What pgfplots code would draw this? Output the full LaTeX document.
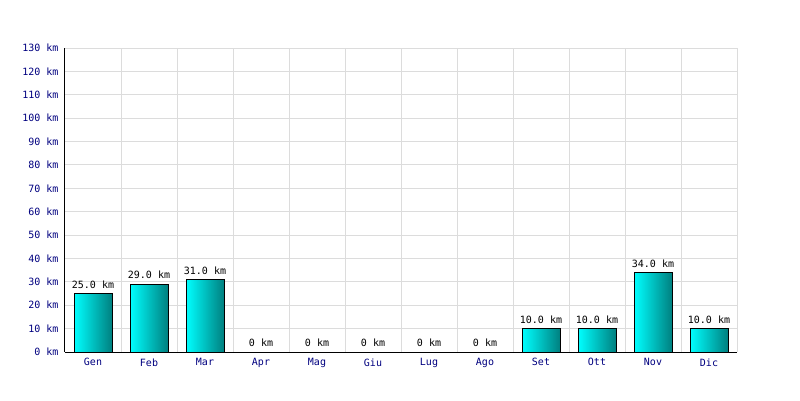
\documentclass[border=0pt]{standalone}
\usepackage{fontspec}
\setmonofont{DejaVu Sans Mono}
\usepackage{pgfplots}
\pgfplotsset{compat=1.18}
\definecolor{navylab}{RGB}{0,0,128}
\definecolor{gridc}{RGB}{220,220,220}
\definecolor{barL}{RGB}{0,255,255}
\definecolor{barR}{RGB}{0,128,128}
\pgfplotsset{mybar/.style={ybar, bar width=38pt, bar shift=0pt, draw=black, line width=1pt,
  left color=barL, right color=barR,
  point meta=explicit symbolic,
  nodes near coords,
  nodes near coords style={font=\ttfamily\fontsize{10}{12}\selectfont, text=black, anchor=south, yshift=1.5pt}}}
\begin{document}
\begin{tikzpicture}[x=1pt,y=1pt]
\fill[white] (0,0) rectangle (800,400);
\useasboundingbox (0,0) rectangle (800,400);
\begin{axis}[
  at={(65pt,48pt)}, anchor=south west,
  scale only axis, width=672pt, height=304pt,
  xmin=-0.5, xmax=11.5, ymin=0, ymax=130,
  axis x line*=bottom, axis y line*=left,
  axis line style={black, line width=1pt, -},
  xtick={0,...,11},
  xticklabels={Gen,Feb,Mar,Apr,Mag,Giu,Lug,Ago,Set,Ott,Nov,Dic},
  minor xtick={0.5,1.5,...,11.5},
  xminorgrids, ymajorgrids,
  grid style={gridc, line width=1pt},
  minor grid style={gridc, line width=1pt},
  ytick={0,10,...,130},
  yticklabels={0 km,10 km,20 km,30 km,40 km,50 km,60 km,70 km,80 km,90 km,100 km,110 km,120 km,130 km},
  major tick length=0pt, minor tick length=0pt,
  tick label style={font=\ttfamily\fontsize{10}{12}\selectfont, text=navylab},
  yticklabel style={xshift=-3pt},
  xticklabel style={yshift=-3pt},
  clip=false,
]
\addplot[mybar] coordinates {(0,25) [25.0 km]};
\addplot[mybar] coordinates {(1,29) [29.0 km]};
\addplot[mybar] coordinates {(2,31) [31.0 km]};
\addplot[mybar] coordinates {(3,0) [0 km]};
\addplot[mybar] coordinates {(4,0) [0 km]};
\addplot[mybar] coordinates {(5,0) [0 km]};
\addplot[mybar] coordinates {(6,0) [0 km]};
\addplot[mybar] coordinates {(7,0) [0 km]};
\addplot[mybar] coordinates {(8,10) [10.0 km]};
\addplot[mybar] coordinates {(9,10) [10.0 km]};
\addplot[mybar] coordinates {(10,34) [34.0 km]};
\addplot[mybar] coordinates {(11,10) [10.0 km]};
\end{axis}
\end{tikzpicture}
\end{document}
